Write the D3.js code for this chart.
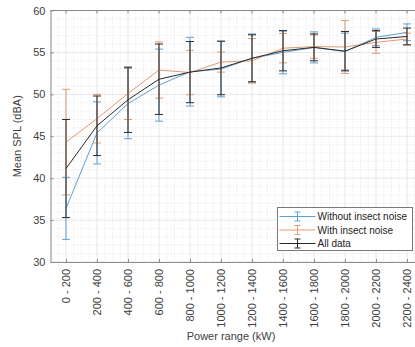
<!DOCTYPE html>
<html>
<head>
<meta charset="utf-8">
<script src="https://cdn.jsdelivr.net/npm/d3@7"></script>
<style>
  body { margin: 0; background: #fff; }
  svg { display: block; font-family: "Liberation Sans", Arial, sans-serif; }
</style>
</head>
<body>
<div id="chart"></div>
<script>
const categories = ["0 - 200", "200 - 400", "400 - 600", "600 - 800", "800 - 1000", "1000 - 1200",
  "1200 - 1400", "1400 - 1600", "1600 - 1800", "1800 - 2000", "2000 - 2200", "2200 - 2400"];

const withoutMean = [36.4, 45.4, 48.9, 51.1, 52.7, 53.0, 54.3, 55.0, 55.6, 55.1, 56.8, 57.4];
const withoutErr  = [3.7, 3.7, 4.2, 4.3, 4.1, 3.3, 2.9, 2.55, 1.85, 2.2, 1.0, 1.0];

const withMean = [44.3, 47.1, 50.1, 52.9, 52.6, 53.85, 54.0, 55.5, 55.7, 55.65, 56.2, 56.6];
const withErr  = [6.3, 2.9, 3.1, 3.35, 2.65, 1.2, 2.65, 1.75, 1.4, 3.15, 1.3, 0.7];

const allMean = [41.15, 46.25, 49.35, 51.8, 52.65, 53.15, 54.3, 55.2, 55.6, 55.15, 56.6, 56.9];
const allErr  = [5.85, 3.55, 3.9, 4.2, 3.65, 3.2, 2.8, 2.4, 1.6, 2.35, 1.0, 1.0];

const yTicks = [30, 35, 40, 45, 50, 55, 60];

const series = [
  { name: "Without insect noise", color: "#5aa3d8", mean: withoutMean, err: withoutErr },
  { name: "With insect noise", color: "#e39a72", mean: withMean, err: withErr },
  { name: "All data", color: "#2a2a2a", mean: allMean, err: allErr }
];

const W = 415, H = 347;
const margin = { top: 10.5, left: 50.5 };
const plotW = 372, plotH = 251.5;

const svg = d3.select("#chart").append("svg")
  .attr("width", W).attr("height", H);

const g = svg.append("g").attr("transform", `translate(${margin.left},${margin.top})`);

const x = d3.scaleLinear().domain([0.5, 12.5]).range([0, plotW]);
const y = d3.scaleLinear().domain([30, 60]).range([plotH, 0]);

// minor grid
g.append("g").selectAll("line")
  .data(d3.range(30, 60.01, 1).filter(v => v % 5 !== 0))
  .join("line")
  .attr("x1", 0).attr("x2", plotW)
  .attr("y1", d => y(d)).attr("y2", d => y(d))
  .attr("stroke", "#dcdcdc").attr("stroke-width", 0.8)
  .attr("stroke-dasharray", "1,2");

g.append("g").selectAll("line")
  .data(d3.range(0.5, 12.51, 0.25).filter(v => Math.abs(v - Math.round(v)) > 0.01))
  .join("line")
  .attr("x1", d => x(d)).attr("x2", d => x(d))
  .attr("y1", 0).attr("y2", plotH)
  .attr("stroke", "#dcdcdc").attr("stroke-width", 0.8)
  .attr("stroke-dasharray", "1,2");

// major grid
g.append("g").selectAll("line")
  .data(yTicks)
  .join("line")
  .attr("x1", 0).attr("x2", plotW)
  .attr("y1", d => y(d)).attr("y2", d => y(d))
  .attr("stroke", "#e6e6e6").attr("stroke-width", 1);

g.append("g").selectAll("line")
  .data(d3.range(1, 13))
  .join("line")
  .attr("x1", d => x(d)).attr("x2", d => x(d))
  .attr("y1", 0).attr("y2", plotH)
  .attr("stroke", "#e6e6e6").attr("stroke-width", 1);

// axes
const xAxis = d3.axisBottom(x).tickValues(d3.range(1, 13))
  .tickFormat(d => categories[d - 1]).tickSizeInner(-3).tickSizeOuter(0).tickPadding(6);
const yAxis = d3.axisLeft(y).tickValues(yTicks).tickSizeInner(-3).tickSizeOuter(0).tickPadding(5);

const xg = g.append("g").attr("transform", `translate(0,${plotH})`).call(xAxis);
xg.selectAll("text")
  .attr("transform", "rotate(-90)")
  .attr("text-anchor", "end")
  .attr("x", -7).attr("y", 0).attr("dy", "0.35em")
  .style("font-size", "11px").attr("fill", "#404040");

const yg = g.append("g").call(yAxis);
yg.selectAll("text").style("font-size", "11px").attr("fill", "#404040");

[xg, yg].forEach(a => {
  a.select(".domain").attr("stroke", "#8a8a8a");
  a.selectAll(".tick line").attr("stroke", "#8a8a8a");
});

// box top and right with inward ticks
g.append("line").attr("x1", 0).attr("x2", plotW).attr("y1", 0).attr("y2", 0).attr("stroke", "#8a8a8a");
g.append("line").attr("x1", plotW).attr("x2", plotW).attr("y1", 0).attr("y2", plotH).attr("stroke", "#8a8a8a");
g.append("g").selectAll("line")
  .data(d3.range(1, 13))
  .join("line")
  .attr("x1", d => x(d)).attr("x2", d => x(d))
  .attr("y1", 0).attr("y2", 3)
  .attr("stroke", "#8a8a8a");

// series
const line = d3.line().x((d, i) => x(i + 1)).y(d => y(d));
const cap = 4;

series.forEach(s => {
  const sg = g.append("g");
  sg.append("path")
    .datum(s.mean)
    .attr("d", line)
    .attr("fill", "none")
    .attr("stroke", s.color)
    .attr("stroke-width", 1);

  const bars = sg.selectAll(".eb")
    .data(s.mean.map((m, i) => ({ i, m, e: s.err[i] })))
    .join("g");

  bars.append("line")
    .attr("x1", d => x(d.i + 1)).attr("x2", d => x(d.i + 1))
    .attr("y1", d => y(d.m - d.e)).attr("y2", d => y(d.m + d.e))
    .attr("stroke", s.color).attr("stroke-width", 1);
  bars.append("line")
    .attr("x1", d => x(d.i + 1) - cap).attr("x2", d => x(d.i + 1) + cap)
    .attr("y1", d => y(d.m - d.e)).attr("y2", d => y(d.m - d.e))
    .attr("stroke", s.color).attr("stroke-width", 1);
  bars.append("line")
    .attr("x1", d => x(d.i + 1) - cap).attr("x2", d => x(d.i + 1) + cap)
    .attr("y1", d => y(d.m + d.e)).attr("y2", d => y(d.m + d.e))
    .attr("stroke", s.color).attr("stroke-width", 1);
});

// axis labels
svg.append("text")
  .attr("transform", "rotate(-90)")
  .attr("x", -(margin.top + y(45))).attr("y", 21)
  .attr("text-anchor", "middle")
  .style("font-size", "11px").attr("fill", "#404040")
  .text("Mean SPL (dBA)");

svg.append("text")
  .attr("x", 231).attr("y", 340)
  .attr("text-anchor", "middle")
  .style("font-size", "11px").attr("fill", "#404040")
  .text("Power range (kW)");

// legend
const lg = svg.append("g").attr("transform", "translate(277.5,207.5)");
lg.append("rect")
  .attr("width", 135).attr("height", 43)
  .attr("fill", "#fff").attr("stroke", "#7a7a7a").attr("stroke-width", 1);

series.forEach((s, i) => {
  const ly = 9 + i * 13.5;
  const row = lg.append("g").attr("transform", `translate(0,${ly})`);
  row.append("line").attr("x1", 2).attr("x2", 38).attr("y1", 0).attr("y2", 0)
    .attr("stroke", s.color);
  row.append("line").attr("x1", 20).attr("x2", 20).attr("y1", -4.5).attr("y2", 4.5)
    .attr("stroke", s.color);
  row.append("line").attr("x1", 17).attr("x2", 23).attr("y1", -4.5).attr("y2", -4.5)
    .attr("stroke", s.color);
  row.append("line").attr("x1", 17).attr("x2", 23).attr("y1", 4.5).attr("y2", 4.5)
    .attr("stroke", s.color);
  row.append("text").attr("x", 40).attr("y", 0).attr("dy", "0.35em")
    .style("font-size", "10px").attr("fill", "#222")
    .text(s.name);
});
</script>
</body>
</html>
